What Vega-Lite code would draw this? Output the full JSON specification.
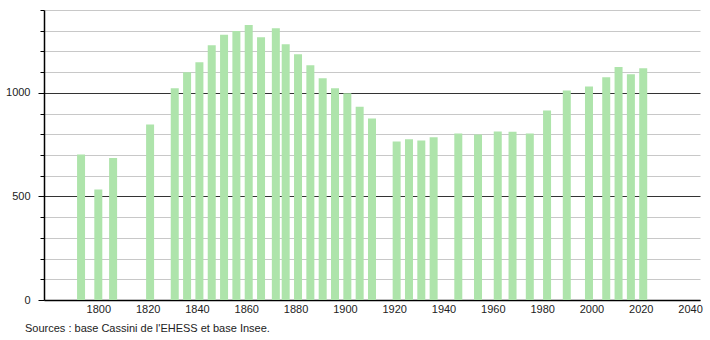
{
  "$schema": "https://vega.github.io/schema/vega-lite/v6.json",
  "width": 656,
  "height": 290,
  "autosize": {"type": "none"},
  "padding": {"left": 44, "top": 10, "right": 10, "bottom": 40},
  "background": "white",
  "config": {
    "view": {"stroke": null},
    "font": "Liberation Sans",
    "axis": {"labelFont": "Liberation Sans", "labelFontSize": 11, "labelColor": "#222222", "labelOverlap": false}
  },
  "layer": [
    {
      "data": {
        "values": [
          {"year": 1793, "pop": 702},
          {"year": 1800, "pop": 533},
          {"year": 1806, "pop": 686},
          {"year": 1821, "pop": 847},
          {"year": 1831, "pop": 1022},
          {"year": 1836, "pop": 1099},
          {"year": 1841, "pop": 1148},
          {"year": 1846, "pop": 1230},
          {"year": 1851, "pop": 1280},
          {"year": 1856, "pop": 1299},
          {"year": 1861, "pop": 1327},
          {"year": 1866, "pop": 1269},
          {"year": 1872, "pop": 1312},
          {"year": 1876, "pop": 1235},
          {"year": 1881, "pop": 1186},
          {"year": 1886, "pop": 1133},
          {"year": 1891, "pop": 1070},
          {"year": 1896, "pop": 1022},
          {"year": 1901, "pop": 998},
          {"year": 1906, "pop": 933},
          {"year": 1911, "pop": 876},
          {"year": 1921, "pop": 765},
          {"year": 1926, "pop": 776},
          {"year": 1931, "pop": 770},
          {"year": 1936, "pop": 786},
          {"year": 1946, "pop": 804},
          {"year": 1954, "pop": 799},
          {"year": 1962, "pop": 814},
          {"year": 1968, "pop": 812},
          {"year": 1975, "pop": 804},
          {"year": 1982, "pop": 915},
          {"year": 1990, "pop": 1011},
          {"year": 1999, "pop": 1031},
          {"year": 2006, "pop": 1075},
          {"year": 2011, "pop": 1125},
          {"year": 2016, "pop": 1090},
          {"year": 2021, "pop": 1119}
        ]
      },
      "mark": {"type": "bar", "size": 8, "color": "#aee4ab"},
      "encoding": {
        "x": {"field": "year", "type": "quantitative", "scale": {"domain": [1780, 2042], "nice": false, "zero": false},
          "axis": {"title": null, "values": [1800, 1820, 1840, 1860, 1880, 1900, 1920, 1940, 1960, 1980, 2000, 2020, 2040], "tickCount": 30, "format": "d", "grid": false, "ticks": false, "tickSize": 0, "labelPadding": 3, "labelOverlap": false, "domainColor": "#000000", "domainWidth": 1.5, "labelFlush": false}},
        "y": {"field": "pop", "type": "quantitative", "scale": {"domain": [0, 1400], "nice": false},
          "axis": {"title": null, "values": [0, 100, 200, 300, 400, 500, 600, 700, 800, 900, 1000, 1100, 1200, 1300, 1400],
            "tickCount": 30,
            "labelExpr": "datum.value % 500 === 0 ? format(datum.value, 'd') : ''",
            "labelOverlap": false,
            "labelPadding": 8,
            "tickColor": "#000000",
            "tickSize": {"condition": {"test": "datum.value % 500 === 0", "value": 6}, "value": 4},
            "grid": true,
            "gridColor": {"condition": {"test": "datum.value % 500 === 0", "value": "#333333"}, "value": "#c8c8c8"},
            "gridWidth": 1,
            "domainColor": "#000000", "domainWidth": 1.5}}
      }
    },
    {
      "data": {"values": [{"note": "Sources : base Cassini de l'EHESS et base Insee."}]},
      "mark": {"type": "text", "align": "left", "baseline": "middle", "fontSize": 11, "font": "Liberation Sans", "color": "#222222", "dx": -24, "dy": 29},
      "encoding": {
        "text": {"field": "note", "type": "nominal"},
        "x": {"datum": 1780, "type": "quantitative"},
        "y": {"datum": 0, "type": "quantitative"}
      }
    }
  ]
}
